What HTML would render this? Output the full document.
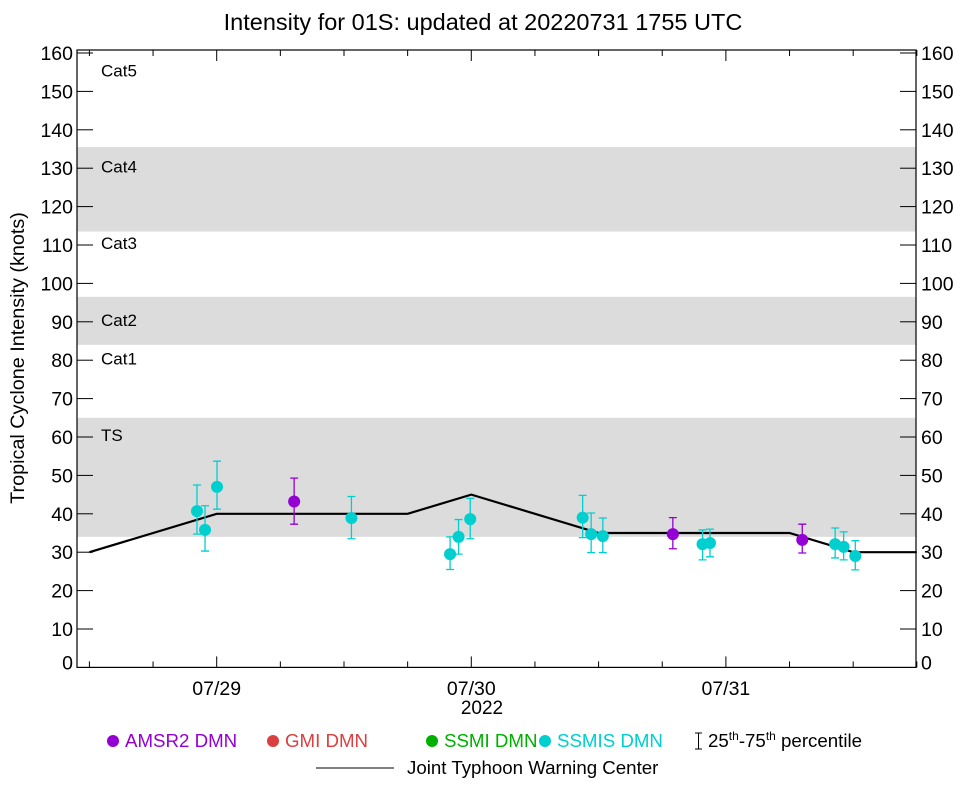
<!DOCTYPE html>
<html><head><meta charset="utf-8"><style>
body{margin:0;background:#fff;}
svg text{font-family:"Liberation Sans",Arial,sans-serif;fill:#000;}
</style></head><body>
<svg id="chart" width="964" height="786" xmlns="http://www.w3.org/2000/svg">
<text x="483" y="30" font-size="23.5" text-anchor="middle">Intensity for 01S: updated at 20220731 1755 UTC</text>
<text transform="translate(24,358) rotate(-90)" font-size="19.8" text-anchor="middle">Tropical Cyclone Intensity (knots)</text>
<g id="bands"></g><g id="grid"></g><g id="line"></g><g id="points"></g>
<rect x="77" y="50" width="839" height="617.4" fill="none" stroke="#000" stroke-width="1.2"/>
<text x="482" y="714" font-size="19" text-anchor="middle">2022</text>
<g font-size="18.7">
<circle cx="113" cy="741" r="6" fill="#9400d3"/>
<text x="125" y="747" style="fill:#9400d3">AMSR2 DMN</text>
<circle cx="273" cy="741" r="6" fill="#d94040"/>
<text x="285" y="747" style="fill:#d94040">GMI DMN</text>
<circle cx="432" cy="741" r="6" fill="#00b000"/>
<text x="444" y="747" style="fill:#00b000">SSMI DMN</text>
<circle cx="545" cy="741" r="6" fill="#00cfcf"/>
<text x="557" y="747" style="fill:#00cfcf">SSMIS DMN</text>
<path d="M695 733h7M698.5 733v16M695 749h7" stroke="#000" stroke-width="1" fill="none"/>
<text x="708" y="747">25<tspan font-size="12" dy="-7">th</tspan><tspan dy="7">-75</tspan><tspan font-size="12" dy="-7">th</tspan><tspan dy="7"> percentile</tspan></text>
<line x1="316" y1="768" x2="394" y2="768" stroke="#000" stroke-width="1"/>
<text x="407" y="774">Joint Typhoon Warning Center</text>
</g>
</svg>
<script>
const yTicks=[0,10,20,30,40,50,60,70,80,90,100,110,120,130,140,150,160];
const bandLo=[34,84,113.5];
const bandHi=[65,96.5,135.5];
const catNames=["TS","Cat1","Cat2","Cat3","Cat4","Cat5"];
const catVals=[60.5,80.5,90.5,110.5,130.5,155.5];
const dayLabels=["07/29","07/30","07/31"];
const dayHours=[0,24,48];
const jtwcHours=[-12,0,18,24,36,54,60,66];
const jtwcVals=[30,40,40,45,35,35,30,30];
const amsrHours=[7.3,43.0,55.2];
const amsrVals=[43.2,34.7,33.2];
const amsrLo=[37.3,30.9,29.8];
const amsrHi=[49.3,39,37.3];
const ssmisHours=[-1.86,-1.1,0.03,12.7,22.0,22.8,23.9,34.5,35.3,36.4,45.8,46.5,58.3,59.1,60.2];
const ssmisVals=[40.7,35.8,47,38.9,29.5,34,38.6,39,34.7,34.2,32.1,32.4,32.1,31.4,29];
const ssmisLo=[34.7,30.3,41.2,33.5,25.5,29.5,33.5,33.8,29.9,29.9,28,28.8,28.5,28,25.4];
const ssmisHi=[47.5,42.1,53.7,44.5,34,38.5,44,44.8,40.2,38.9,35.8,36,36.3,35.3,33];

const NS="http://www.w3.org/2000/svg";
const X0=77,X1=916,Y0=667.4,TOP=50;
function xs(h){return 216.7+h*10.608;}
function ys(v){return Y0-v*3.84;}
function mk(tag,attrs,parent){const e=document.createElementNS(NS,tag);for(const k in attrs)e.setAttribute(k,attrs[k]);document.getElementById(parent).appendChild(e);return e;}

bandLo.forEach((lo,i)=>{
 const r=mk('rect',{x:X0,y:ys(bandHi[i]),width:X1-X0,height:ys(lo)-ys(bandHi[i]),fill:'#dcdcdc'},'bands');
 
 
});
catNames.forEach((n,i)=>{
 const t=mk('text',{x:101,y:ys(catVals[i])+6,'font-size':17},'bands');t.textContent=n;
 
 
});
yTicks.forEach(v=>{
 const y=ys(v);
 if(v>0){
  mk('line',{x1:X0,x2:X0+16,y1:y,y2:y,stroke:'#000'},'grid');
  mk('line',{x1:X1-16,x2:X1,y1:y,y2:y,stroke:'#000'},'grid');
 }
 const ly=y+7-(v===0?5:0);
 const a=mk('text',{x:73,y:ly,'font-size':19.5,'text-anchor':'end'},'grid');a.textContent=v;
 
 
 const b=mk('text',{x:921,y:ly,'font-size':19.5},'grid');b.textContent=v;
 
 
});
for(let h=-12;h<=66;h+=6){
 const x=xs(h);const major=(h%24===0);
 mk('line',{x1:x,x2:x,y1:Y0,y2:Y0-(major?11:6),stroke:'#000'},'grid');
 mk('line',{x1:x,x2:x,y1:TOP,y2:TOP+(major?11:6),stroke:'#000'},'grid');
}
dayLabels.forEach((d,i)=>{
 const t=mk('text',{x:xs(dayHours[i]),y:695,'font-size':19.5,'text-anchor':'middle'},'grid');t.textContent=d;
 
 
});
const pl=mk('polyline',{points:jtwcHours.map((h,i)=>xs(h)+','+ys(jtwcVals[i])).join(' '),fill:'none',stroke:'#000','stroke-width':2.2},'line');


function series(hrs,vals,lo,hi,col,name){
 hrs.forEach((h,i)=>{
  const x=xs(h);
  const p=mk('path',{d:`M${x-4} ${ys(hi[i])}h8M${x} ${ys(hi[i])}V${ys(lo[i])}M${x-4} ${ys(lo[i])}h8`,stroke:col,'stroke-width':1.3,fill:'none'},'points');
  
  
  const c=mk('circle',{cx:x,cy:ys(vals[i]),r:6,fill:col},'points');
  
  
 });
}
series(ssmisHours,ssmisVals,ssmisLo,ssmisHi,'#00cfcf','ssmis');
series(amsrHours,amsrVals,amsrLo,amsrHi,'#9400d3','amsr2');
</script>
</body></html>
